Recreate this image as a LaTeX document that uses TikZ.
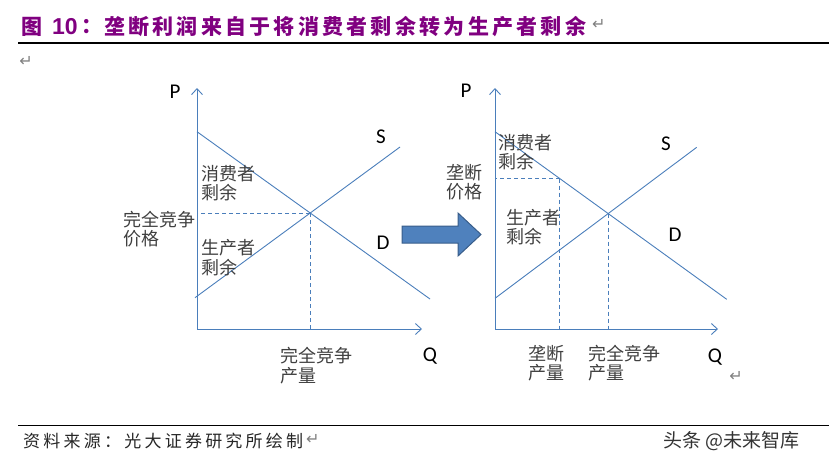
\documentclass[tikz,border=0pt]{standalone}
\usepackage{fontspec}
\newfontfamily\cjk{Noto Sans CJK SC}
\newfontfamily\lat{Carlito}
\newfontfamily\arl{Liberation Sans}
\newfontfamily\djv{DejaVu Sans}
\usetikzlibrary{arrows.meta,calc}
\definecolor{axisblue}{HTML}{4A7EBB}
\definecolor{titlepurple}{HTML}{800080}
\definecolor{arrowfill}{HTML}{4F81BD}
\definecolor{arrowline}{HTML}{385D8A}
\definecolor{labelgray}{HTML}{404040}
\begin{document}
\begin{tikzpicture}[x=1pt,y=-1pt,
  axis/.style={draw=axisblue, line width=0.9pt, -{Straight Barb[length=6pt,width=11pt]}},
  curve/.style={draw=axisblue, line width=0.9pt},
  guide/.style={draw=axisblue, line width=0.9pt, dash pattern=on 4pt off 3pt},
  cjklabel/.style={font=\cjk\fontsize{18}{19.5}\selectfont, text=labelgray, align=left, anchor=west, inner sep=0pt},
  letter/.style={font=\lat\fontsize{21}{21}\selectfont, inner sep=0pt},
  retmark/.style={font=\djv\fontsize{16}{16}\selectfont, text=gray, inner sep=0pt},
  titlecjk/.style={font=\cjk\bfseries\fontsize{21}{21}\selectfont, text=titlepurple, anchor=west, inner sep=0pt},
  rule/.style={draw=black, line width=1.3pt}]
\useasboundingbox (0,0) rectangle (829,467);
% title
\node[titlecjk] (t1) at (21,27) {图};
\node[font=\arl\bfseries\fontsize{23}{23}\selectfont, text=titlepurple, anchor=west, inner sep=0pt] (t2) at (52,27) {10};
\node[titlecjk] (t3) at (81,27) {：};
\node[titlecjk, font=\cjk\bfseries\fontsize{21}{21}\selectfont\addfontfeature{LetterSpace=15.5}] (t4) at (104,27) {垄断利润来自于将消费者剩余转为生产者剩余};
\node[retmark, anchor=west] (t5) at (592,24) {↵};
\coordinate (r1a) at (18,43);
\coordinate (r1b) at (829,43);
\draw[rule] (r1a) -- (r1b);
\node[retmark] (t6) at (26,61) {↵};
% chart 1
\coordinate (O1) at (197,329);
\coordinate (P1) at (197,88);
\coordinate (Q1) at (422,329);
\draw[axis] (O1) -- (P1);
\draw[axis] (O1) -- (Q1);
\coordinate (D1a) at (197,131.7);
\coordinate (D1b) at (430,299);
\coordinate (S1a) at (195,297.7);
\coordinate (S1b) at (400,147);
\draw[curve] (D1a) -- (D1b);
\draw[curve] (S1a) -- (S1b);
\coordinate (E1) at (intersection of D1a--D1b and S1a--S1b);
\draw[guide] (E1) -- (E1 -| O1);
\draw[guide] (E1) -- (E1 |- O1);
\node[letter] (p1) at (175,92) {P};
\node[letter] (s1) at (381,137) {S};
\node[letter] (d1) at (383,243) {D};
\node[letter] (q1) at (430,356) {Q};
\node[cjklabel] (cs1) at (201,183) {消费者\\剩余};
\node[cjklabel] (pc1) at (123,229) {完全竞争\\价格};
\node[cjklabel] (ps1) at (201,257.5) {生产者\\剩余};
\node[cjklabel] (qc1) at (280,365.5) {完全竞争\\产量};
% big arrow
\filldraw[fill=arrowfill, draw=arrowline, line width=1pt] (402,226) -- (458,226) -- (458,213) -- (481,234.5) -- (458,256) -- (458,243) -- (402,243) -- cycle;
% chart 2
\coordinate (O2) at (495,329);
\coordinate (P2) at (495,88);
\coordinate (Q2) at (718,329);
\draw[axis] (O2) -- (P2);
\draw[axis] (O2) -- (Q2);
\coordinate (D2a) at (495,131.7);
\coordinate (D2b) at (726.7,299.3);
\coordinate (S2a) at (495,298.3);
\coordinate (S2b) at (696.7,147.3);
\draw[curve] (D2a) -- (D2b);
\draw[curve] (S2a) -- (S2b);
\coordinate (E2) at (intersection of D2a--D2b and S2a--S2b);
\coordinate (M2) at ($(D2a)!0.28!(D2b)$);
\draw[guide] (M2) -- (M2 -| O2);
\draw[guide] (M2) -- (M2 |- O2);
\draw[guide] (E2) -- (E2 |- O2);
\node[letter] (p2) at (466,91) {P};
\node[letter] (s2) at (666,144) {S};
\node[letter] (d2) at (675,235) {D};
\node[letter] (q2) at (715,357) {Q};
\node[cjklabel] (cs2) at (498,152) {消费者\\剩余};
\node[cjklabel] (mp2) at (446,182) {垄断\\价格};
\node[cjklabel] (ps2) at (506,227) {生产者\\剩余};
\node[cjklabel] (mq2) at (528,363) {垄断\\产量};
\node[cjklabel] (qc2) at (588,363) {完全竞争\\产量};
\node[retmark] (t7) at (736,376) {↵};
% footer
\coordinate (r2a) at (18,425.5);
\coordinate (r2b) at (829,425.5);
\draw[rule] (r2a) -- (r2b);
\node[font=\cjk\fontsize{17}{17}\selectfont\addfontfeature{LetterSpace=19}, text=black!85, anchor=west, inner sep=0pt] (src) at (23,441) {资料来源：光大证券研究所绘制};
\node[retmark, anchor=west] (t8) at (306,439) {↵};
\node[font=\cjk\fontsize{19}{19}\selectfont, text=black!80, anchor=west, inner sep=0pt] (wm) at (663,441) {头条 @未来智库};
\end{tikzpicture}
\end{document}
